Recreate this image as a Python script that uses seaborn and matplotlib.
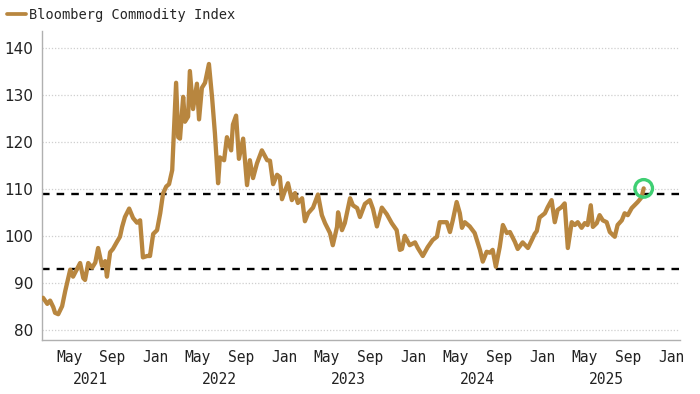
import matplotlib
matplotlib.use("Agg")
import matplotlib.pyplot as plt
import matplotlib.dates as mdates
from matplotlib.lines import Line2D
import seaborn as sns
import pandas as pd

# ---- data ----
dates = [
    "2021-02-16", "2021-02-28", "2021-03-08", "2021-03-17", "2021-03-22", "2021-03-31",
    "2021-04-11", "2021-04-20", "2021-05-04", "2021-05-12", "2021-05-21", "2021-06-01",
    "2021-06-10", "2021-06-15", "2021-06-24", "2021-07-05", "2021-07-14", "2021-07-22",
    "2021-08-02", "2021-08-11", "2021-08-16", "2021-08-25", "2021-09-02", "2021-09-14",
    "2021-09-22", "2021-09-28", "2021-10-06", "2021-10-18", "2021-10-29", "2021-11-09",
    "2021-11-18", "2021-11-26", "2021-12-08", "2021-12-16", "2021-12-25", "2022-01-05",
    "2022-01-14", "2022-01-22", "2022-01-31", "2022-02-08", "2022-02-17", "2022-02-19",
    "2022-02-28", "2022-03-06", "2022-03-11", "2022-03-20", "2022-03-25", "2022-04-03",
    "2022-04-08", "2022-04-17", "2022-04-28", "2022-05-04", "2022-05-12", "2022-05-21",
    "2022-06-01", "2022-06-10", "2022-06-18", "2022-06-27", "2022-07-02", "2022-07-14",
    "2022-07-22", "2022-08-03", "2022-08-08", "2022-08-17", "2022-08-25", "2022-09-06",
    "2022-09-17", "2022-09-25", "2022-10-04", "2022-10-15", "2022-10-29", "2022-11-13",
    "2022-11-21", "2022-11-30", "2022-12-11", "2022-12-19", "2022-12-25", "2023-01-02",
    "2023-01-11", "2023-01-22", "2023-01-31", "2023-02-08", "2023-02-20", "2023-02-28",
    "2023-03-09", "2023-03-23", "2023-04-06", "2023-04-17", "2023-04-26", "2023-05-10",
    "2023-05-18", "2023-05-30", "2023-06-02", "2023-06-13", "2023-06-21", "2023-07-06",
    "2023-07-14", "2023-07-26", "2023-08-03", "2023-08-17", "2023-08-31", "2023-09-09",
    "2023-09-20", "2023-10-04", "2023-10-18", "2023-11-01", "2023-11-15", "2023-11-24",
    "2023-11-30", "2023-12-08", "2023-12-22", "2024-01-06", "2024-01-14", "2024-01-28",
    "2024-02-11", "2024-02-25", "2024-03-08", "2024-03-16", "2024-04-05", "2024-04-14",
    "2024-04-22", "2024-05-03", "2024-05-12", "2024-05-18", "2024-05-26", "2024-06-09",
    "2024-06-23", "2024-07-08", "2024-07-16", "2024-07-27", "2024-08-05", "2024-08-13",
    "2024-08-22", "2024-09-02", "2024-09-11", "2024-09-22", "2024-10-01", "2024-10-15",
    "2024-10-23", "2024-11-06", "2024-11-21", "2024-12-02", "2024-12-10", "2024-12-16",
    "2024-12-24", "2025-01-08", "2025-01-16", "2025-01-27", "2025-02-05", "2025-02-13",
    "2025-02-24", "2025-03-05", "2025-03-14", "2025-03-25", "2025-04-03", "2025-04-11",
    "2025-04-22", "2025-05-01", "2025-05-09", "2025-05-18", "2025-05-24", "2025-06-04",
    "2025-06-12", "2025-06-21", "2025-07-02", "2025-07-11", "2025-07-25", "2025-08-02",
    "2025-08-14", "2025-08-22", "2025-08-31", "2025-09-11", "2025-09-19", "2025-09-28",
    "2025-10-09", "2025-10-15",
]
values = [
    86.8, 85.5, 86.2, 84.8, 83.6, 83.3,
    85.0, 88.3, 92.8, 91.3, 92.6, 94.2,
    91.0, 90.6, 94.2, 93.2, 94.3, 97.4,
    93.6, 94.6, 91.3, 96.5, 97.2, 98.8,
    99.8, 101.9, 104.0, 105.8, 103.8, 102.8,
    103.3, 95.4, 95.7, 95.7, 100.4, 101.2,
    104.8, 109.0, 110.5, 111.0, 114.0, 117.5,
    132.6, 121.0, 120.7, 129.6, 124.3, 125.4,
    135.1, 127.0, 132.4, 124.8, 131.5, 132.6,
    136.6, 129.4, 121.8, 111.2, 116.7, 116.1,
    121.0, 118.2, 123.7, 125.6, 116.4, 120.7,
    110.8, 116.1, 112.3, 115.4, 118.2, 116.1,
    116.0, 111.0, 113.0, 112.5, 107.8, 109.5,
    111.2, 107.6, 109.1, 107.0, 108.0, 103.1,
    104.8, 106.0, 108.8, 104.4, 102.7, 100.6,
    98.0, 101.9, 105.0, 101.2, 102.7, 108.0,
    106.5, 105.9, 104.0, 106.8, 107.6, 105.7,
    102.0, 106.0, 104.6, 102.7, 101.2, 97.0,
    97.2, 100.0, 98.0, 98.6, 97.4, 95.7,
    97.6, 99.1, 99.8, 102.9, 102.9, 100.8,
    103.3, 107.2, 104.8, 101.7, 102.9, 102.0,
    100.6, 97.0, 94.5, 96.6, 96.4, 97.0,
    93.4, 97.6, 102.3, 100.6, 100.8, 98.7,
    97.2, 98.6, 97.4, 99.1, 100.4, 101.0,
    103.9, 104.8, 106.1, 107.6, 102.9, 105.5,
    106.1, 106.9, 97.4, 102.9, 102.3, 102.9,
    101.7, 102.7, 102.3, 106.5, 101.9, 102.7,
    104.4, 103.3, 102.9, 100.8, 99.8, 102.3,
    103.3, 104.8, 104.4, 105.9, 106.5, 107.2,
    108.2, 110.1,
]
series_name = "Bloomberg Commodity Index"
range_levels = [109, 93]
y_ticks = [80, 90, 100, 110, 120, 130, 140]
years = [2021, 2022, 2023, 2024, 2025]

df = pd.DataFrame({"date": pd.to_datetime(dates), "value": values})

# ---- style ----
sns.set_style("white")
plt.rcParams["font.family"] = ["DejaVu Sans"]
mono = "DejaVu Sans Mono"
line_color = "#b8863f"

fig = plt.figure(figsize=(7.0, 3.94), dpi=100)
ax = fig.add_axes([0.060, 0.137, 0.911, 0.784])

sns.lineplot(data=df, x="date", y="value", ax=ax, color=line_color,
             linewidth=3.1, zorder=3, legend=False)

for lvl in range_levels:
    ax.axhline(lvl, color="black", linewidth=1.7, linestyle=(0, (3.2, 3.0)), zorder=2)

# highlight last point
ax.scatter([df["date"].iloc[-1]], [df["value"].iloc[-1]], s=160, facecolors="none",
           edgecolors="#3fcf73", linewidths=2.4, zorder=4)

# axes limits
ax.set_xlim(pd.Timestamp("2021-02-13"), pd.Timestamp("2026-01-25"))
ax.set_ylim(77.8, 143.6)

# y axis
ax.set_yticks(y_ticks)
ax.set_yticklabels([str(v) for v in y_ticks], fontsize=11, color="#222222")
ax.tick_params(axis="y", length=0, pad=6)
ax.grid(axis="y", color="#cfcfcf", linestyle=(0, (1, 1.5)), linewidth=0.9)
ax.grid(axis="x", visible=False)

# x axis: month labels at Jan/May/Sep, year labels below
major = pd.date_range("2021-05-01", "2026-01-01", freq="4MS")
ax.set_xticks(major)
ax.set_xticklabels([d.strftime("%b") for d in major], fontsize=10.5,
                   family=mono, color="#222222")
ax.tick_params(axis="x", which="major", length=3, width=0.8, color="#aaaaaa", pad=4)
for t, d in zip(ax.xaxis.get_major_ticks(), major):
    if d.month == 1:
        t.tick1line.set_markersize(7)

mid = [pd.Timestamp(f"{y}-07-01") for y in years]
ax.set_xticks(mid, minor=True)
ax.set_xticklabels([str(y) for y in years], minor=True, fontsize=10.5,
                   family=mono, color="#222222")
ax.tick_params(axis="x", which="minor", length=0, pad=23)

ax.set_xlabel("")
ax.set_ylabel("")

for s in ["top", "right"]:
    ax.spines[s].set_visible(False)
for s in ["left", "bottom"]:
    ax.spines[s].set_color("#b0b0b0")
    ax.spines[s].set_linewidth(1.0)

# legend at top-left
handle = Line2D([0], [0], color=line_color, linewidth=2.7)
fig.legend([handle], [series_name], loc="center left",
           bbox_to_anchor=(0.010, 1 - 15 / 394), frameon=False,
           handlelength=1.4, handletextpad=0.25, borderpad=0, borderaxespad=0,
           prop={"family": mono, "size": 9.8})

fig.savefig("out.png", dpi=100)
